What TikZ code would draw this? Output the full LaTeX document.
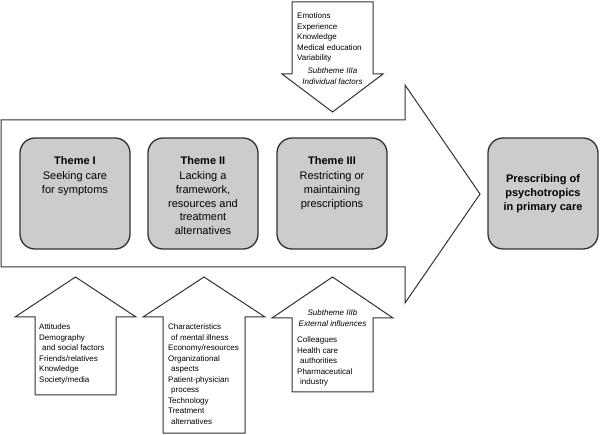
\documentclass[tikz,border=0pt]{standalone}
\usepackage{fontspec}
\setmainfont{Liberation Sans}
\definecolor{boxgray}{RGB}{204,204,204}
\definecolor{edge}{RGB}{50,50,50}
\begin{document}
\begin{tikzpicture}[x=1pt,y=1pt,
  themebox/.style={draw=edge,line width=1.3pt,fill=boxgray,rounded corners=15pt,minimum width=110pt,minimum height=111pt,inner sep=0pt},
  arrowshape/.style={draw=edge,line width=1pt,fill=white,line join=miter},
  themetext/.style={anchor=north,align=center,inner sep=0pt,font=\fontsize{11}{13.7}\selectfont},
  smalllist/.style={anchor=north west,align=left,inner sep=0pt,font=\fontsize{8}{10.5}\selectfont},
  subtheme/.style={anchor=north,align=center,inner sep=0pt,font=\fontsize{8}{10.5}\selectfont\itshape}]
\useasboundingbox (0,0) rectangle (600,434);
% big arrow
\draw[arrowshape] (1,314) -- (405,314) -- (405,349) -- (480,240) -- (405,131) -- (405,167) -- (1,167) -- cycle;
% top down arrow
\draw[arrowshape] (292,432) -- (373,432) -- (373,360) -- (383,360) -- (332.5,322) -- (282,360) -- (292,360) -- cycle;
% bottom arrows
\draw[arrowshape] (35,39) -- (116,39) -- (116,117) -- (136,117) -- (75.5,157) -- (15,117) -- (35,117) -- cycle;
\draw[arrowshape] (163,1) -- (245,1) -- (245,117) -- (265,117) -- (204,157) -- (143,117) -- (163,117) -- cycle;
\draw[arrowshape] (292,42) -- (373,42) -- (373,116) -- (393,116) -- (332.5,157) -- (272,116) -- (292,116) -- cycle;
% theme boxes
\node[themebox] (t1) at (75,240.5) {};
\node[themebox] (t2) at (203,240.5) {};
\node[themebox] (t3) at (332,240.5) {};
\node[themebox,align=center,font=\fontsize{11}{13.7}\selectfont\bfseries] (pp) at (543,240.5) {Prescribing of\\psychotropics\\in primary care};
\node[themetext] (t1txt) at (t1.center |- 0,278) {\textbf{Theme I}\\[2pt]Seeking care\\for symptoms};
\node[themetext] (t2txt) at (t2.center |- 0,278) {\textbf{Theme II}\\[2pt]Lacking a\\framework,\\resources and\\treatment\\alternatives};
\node[themetext] (t3txt) at (t3.center |- 0,278) {\textbf{Theme III}\\[2pt]Restricting or\\maintaining\\prescriptions};
% top arrow text
\node[smalllist] (ind) at (297,421) {Emotions\\Experience\\Knowledge\\Medical education\\Variability};
\node[subtheme] (indsub) at (332.5,366) {Subtheme IIIa\\Individual factors};
% bottom arrow texts
\node[smalllist] (b1) at (39,110) {Attitudes\\Demography\\\hspace*{3pt}and social factors\\Friends/relatives\\Knowledge\\Society/media};
\node[smalllist] (b2) at (168,110) {Characteristics\\\hspace*{3pt}of mental illness\\Economy/resources\\Organizational\\\hspace*{3pt}aspects\\Patient-physician\\\hspace*{3pt}process\\Technology\\Treatment\\\hspace*{3pt}alternatives};
\node[subtheme] (extsub) at (332.5,124) {Subtheme IIIb\\External influences};
\node[smalllist] (b3) at (297,97) {Colleagues\\Health care\\\hspace*{3pt}authorities\\Pharmaceutical\\\hspace*{3pt}industry};
\end{tikzpicture}
\end{document}
